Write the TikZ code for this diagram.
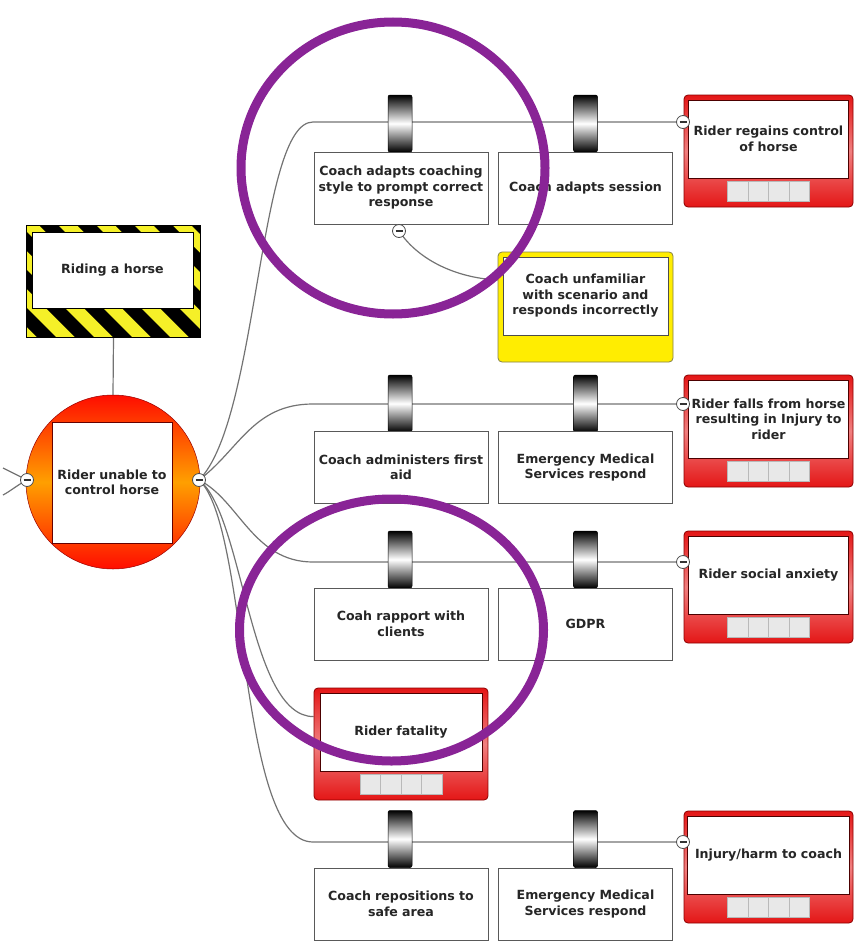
\documentclass[tikz,border=0pt]{standalone}
\usepackage{fontspec}
\setmainfont{DejaVu Sans}
\usetikzlibrary{calc}
\pgfdeclarelayer{bg}
\pgfdeclarelayer{fg}
\pgfsetlayers{bg,main,fg}

\definecolor{linegray}{RGB}{115,115,115}
\definecolor{annot}{RGB}{137,36,150}
\definecolor{consred}{RGB}{228,22,22}
\definecolor{hazyellow}{RGB}{245,240,40}

\tikzset{
  lbl/.style={font=\fontsize{12.6}{15.5}\selectfont\bfseries, align=center, text=black!85},
  ctrlbox/.style={draw=gray!70!black, line width=0.8pt, fill=white, minimum width=174, minimum height=72, text width=172, lbl, inner sep=0},
  barrier/.style={draw=black, line width=0.5pt, rounded corners=2pt, minimum width=24, minimum height=57, top color=black, bottom color=black, middle color=white, inner sep=0},
  minus/.style={circle, draw=gray!60!black, fill=white, minimum size=13, inner sep=0, line width=0.8pt,
    path picture={\draw[line width=1.3pt, black!80] ([xshift=-3.5pt]path picture bounding box.center) -- ([xshift=3.5pt]path picture bounding box.center);}},
  conn/.style={draw=linegray, line width=1.2pt},
  annotring/.style={draw=annot, line width=9pt},
  consouter/.style={draw=red!55!black, line width=0.8pt, rounded corners=4pt, minimum height=112, top color=consred, bottom color=consred, middle color=consred!55, inner sep=0},
  consinner/.style={draw=red!30!black, line width=0.6pt, fill=white, minimum height=78, inner sep=0, lbl},
  cell/.style={draw=gray!55, fill=gray!18, minimum width=20.5, minimum height=20, inner sep=0, line width=0.5pt},
}

% name, cx, cy, outer width, inner width, inner text width, text
\newcommand{\ConsBox}[7]{%
  \node[consouter, minimum width=#4] (#1) at (#2,#3) {};
  \node[consinner, minimum width=#5, text width=#6, anchor=north] (#1in) at ($(#1.north)+(0,5)$) {#7};
  \foreach \i in {-1.5,-0.5,0.5,1.5} \node[cell] at ($(#1.north)+(\i*20.5,97)$) {};
}

\begin{document}
\begin{tikzpicture}[x=1pt,y=-1pt]
\useasboundingbox (0,0) rectangle (855,942);

% ---------- hazard ----------
\node[fill=hazyellow, minimum width=173, minimum height=111, inner sep=0] (hz) at (113.5,281.5) {};
\begin{scope}
  \clip (hz.north west) rectangle (hz.south east);
  \foreach \s in {-150,-112,...,240}
    \fill[black] (\s,226) -- ++(19,0) -- ++(111,111) -- ++(-19,0) -- cycle;
\end{scope}
\draw[black, line width=0.8pt] (hz.north west) rectangle (hz.south east);
\node[draw=black, line width=0.6pt, fill=white, minimum width=161, minimum height=76, inner sep=0, lbl] (hzin) at (112.5,270) {Riding a horse};

% ---------- top event ----------
\node[circle, minimum size=174, inner sep=0, draw=red!60!black, line width=0.5pt,
      top color=red!90!orange, bottom color=red!90!orange, middle color=orange!75!yellow] (te) at (113,482) {};
\node[draw=red!40!black, line width=0.6pt, fill=white, minimum width=120, minimum height=121, text width=118, inner sep=0, lbl] (tein) at (112,482.5) {Rider unable to\\control horse};
\node[minus] (tmL) at (27,480) {};
\node[minus] (tmR) at (199,480) {};

% ---------- row 1 ----------
\node[barrier] (b11) at (400,123.5) {};
\node[barrier] (b12) at (585.5,123.5) {};
\node[ctrlbox] (c11) at (401,188) {Coach adapts coaching\\style to prompt correct\\response};
\node[ctrlbox] (c12) at (585.5,188) {Coach adapts session};
\ConsBox{k1}{768.5}{151}{169}{157}{160}{Rider regains control\\of horse}
\node[minus] (km1) at (683,122) {};
\node[minus] (sm) at (399,231) {};

% escalation factor
\node[draw=yellow!45!black, line width=0.8pt, rounded corners=4pt, fill=yellow!95!orange, minimum width=175, minimum height=110, inner sep=0] (yb) at (585.5,307) {};
\node[draw=black!70, line width=0.6pt, fill=white, minimum width=165, minimum height=78, text width=164, inner sep=0, lbl, anchor=north] (ybin) at ($(yb.north)+(0,5)$) {Coach unfamiliar\\with scenario and\\responds incorrectly};

% ---------- row 2 ----------
\node[barrier] (b21) at (400,403.5) {};
\node[barrier] (b22) at (585.5,403.5) {};
\node[ctrlbox] (c21) at (401,467.5) {Coach administers first\\aid};
\node[ctrlbox] (c22) at (585.5,467.5) {Emergency Medical\\Services respond};
\ConsBox{k2}{768.5}{431}{169}{157}{160}{Rider falls from horse\\resulting in Injury to\\rider}
\node[minus] (km2) at (683,404) {};

% ---------- row 3 ----------
\node[barrier] (b31) at (400,559.5) {};
\node[barrier] (b32) at (585.5,559.5) {};
\node[ctrlbox] (c31) at (401,624) {Coah rapport with\\clients};
\node[ctrlbox] (c32) at (585.5,624) {GDPR};
\ConsBox{k3}{768.5}{587}{169}{157}{160}{Rider social anxiety}
\node[minus] (km3) at (683,562) {};

% ---------- fatality ----------
\ConsBox{kf}{401}{744}{174}{162}{160}{Rider fatality}

% ---------- row 5 ----------
\node[barrier] (b51) at (400,839) {};
\node[barrier] (b52) at (585.5,839) {};
\node[ctrlbox] (c51) at (401,904) {Coach repositions to\\safe area};
\node[ctrlbox] (c52) at (585.5,904) {Emergency Medical\\Services respond};
\ConsBox{k5}{768.5}{867}{169}{157}{162}{Injury/harm to coach}
\node[minus] (km5) at (683,842) {};

% ---------- coordinates ----------
\coordinate (r1) at (313,122);
\coordinate (r2) at (313,404);
\coordinate (r3) at (313,562);
\coordinate (rf) at ($(kf.north west)+(0,29)$);
\coordinate (r5) at (313,842);
\coordinate (ybw) at ($(yb.west)+(0,-27)$);
\coordinate (lo1) at (3,468);
\coordinate (lo2) at (3,495);

% ---------- connectors ----------
\begin{pgfonlayer}{bg}
  \draw[conn] (hz.south) -- (te.north);
  \draw[conn] (tmR.center) .. controls +(60,-60) and +(-55,0) .. (r1) -- (km1.center);
  \draw[conn] (tmR.center) .. controls +(40,-30) and +(-60,0) .. (r2) -- (km2.center);
  \draw[conn] (tmR.center) .. controls +(40,20) and +(-60,0) .. (r3) -- (km3.center);
  \draw[conn] (tmR.center) .. controls +(45,35) and +(-65,0) .. (rf);
  \draw[conn] (tmR.center) .. controls +(50,45) and +(-75,0) .. (r5) -- (km5.center);
  \draw[conn] (sm.center) .. controls +(20,30) and +(-40,-2) .. (ybw);
  \draw[conn] (tmL.center) .. controls +(-8,-4) and +(6,3) .. (lo1);
  \draw[conn] (tmL.center) .. controls +(-8,4) and +(6,-3) .. (lo2);
\end{pgfonlayer}

% ---------- annotation rings ----------
\begin{pgfonlayer}{fg}
  \draw[annotring] (393,168) ellipse [x radius=152, y radius=146];
  \draw[annotring] (391.5,630) ellipse [x radius=152, y radius=131];
\end{pgfonlayer}
\end{tikzpicture}
\end{document}
